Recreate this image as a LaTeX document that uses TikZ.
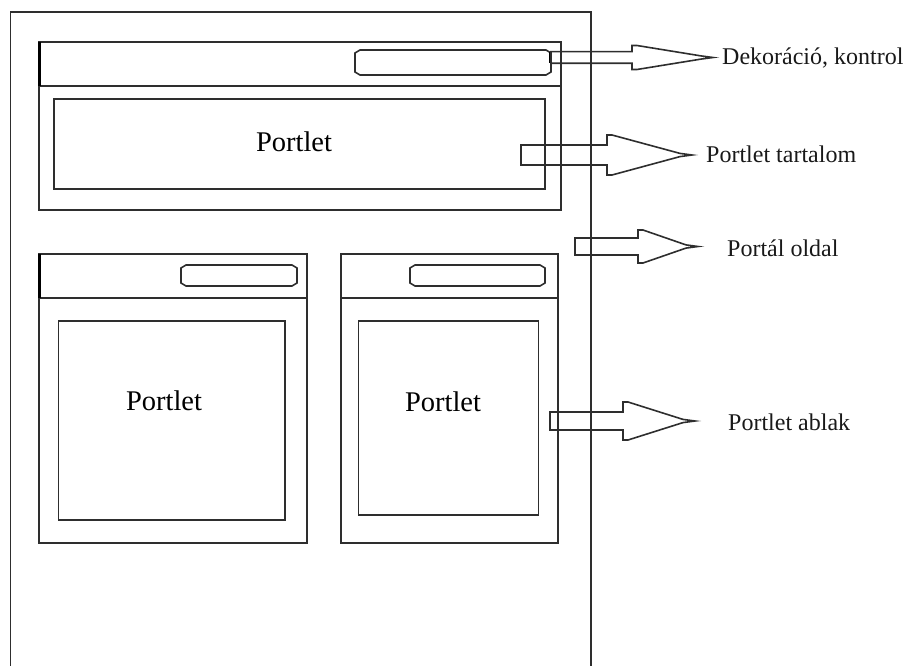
\documentclass[tikz,border=0pt]{standalone}
\usepackage{fontspec}
\setmainfont{Liberation Serif}
\newcommand\pillshape[4]{% x1 y1 x2 y2
  \draw[ln] ({#1+5},#2) -- ({#3-5},#2) -- (#3,{#2+3}) -- (#3,{#4-3}) -- ({#3-5},#4)
    -- ({#1+5},#4) -- (#1,{#4-3}) -- (#1,{#2+3}) -- cycle;}
\newcommand\blockarrow[6]{% x0 xbase xtip ycenter shafthalf headhalf
  \draw[ln] (#1,{#4-#5}) -- (#2,{#4-#5}) -- (#2,{#4-#6}) -- ({#2+5},{#4-#6})
    -- ({#3-12},{#4-1.6}) -- (#3,#4) -- ({#3-12},{#4+1.6}) -- ({#2+5},{#4+#6})
    -- (#2,{#4+#6}) -- (#2,{#4+#5}) -- (#1,{#4+#5}) -- cycle;}
\begin{document}
\begin{tikzpicture}[x=1pt,y=-1pt,
  ln/.style={draw=black!82, line width=1.6pt, line join=miter},
  thick edge/.style={draw=black, line width=3pt},
  portlet/.style={font=\fontsize{28.5}{32}\selectfont, inner sep=0pt, anchor=base},
  label/.style={font=\fontsize{24}{28}\selectfont, inner sep=0pt, anchor=base west, text=black!90}]
\useasboundingbox (0,0) rectangle (906,666);
% portal page
\draw[ln] (10.5,668) -- (10.5,12) -- (591,12) -- (591,668);
% top portlet window
\draw[ln] (39,42) rectangle (561,210);
\draw[ln] (39,86) -- (561,86);
\draw[thick edge] (39.5,42) -- (39.5,86);
\pillshape{355}{50}{551}{75}
\draw[ln] (54,99) rectangle (545,189);
\node[portlet] (p1) at (294,151.7) {Portlet};
% bottom left window
\draw[ln] (39,254) rectangle (307,543);
\draw[ln] (39,298) -- (307,298);
\draw[thick edge] (39.5,254) -- (39.5,298);
\pillshape{181}{265}{297}{286}
\draw[ln] (58.5,321) rectangle (285,520);
\node[portlet] (p2) at (164,410) {Portlet};
% bottom right window
\draw[ln] (341,254) rectangle (558,543);
\draw[ln] (341,298) -- (558,298);
\pillshape{410}{265}{545}{286}
\draw[ln] (358.5,321) rectangle (538.5,515);
\node[portlet] (p3) at (443,411.5) {Portlet};
% arrows
\draw[thick edge] (550.5,52) -- (550.5,63);
\blockarrow{551}{632}{713}{57.5}{5.8}{12}
\blockarrow{521}{607}{692}{155}{10}{20}
\blockarrow{575}{638}{698}{246.5}{8.5}{16.5}
\blockarrow{550}{623}{695}{421}{9}{19}
% labels
\node[label] (l1) at (722,65) {Dekoráció, kontrol};
\node[label] (l2) at (706,162.7) {Portlet tartalom};
\node[label] (l3) at (727,256) {Portál oldal};
\node[label] (l4) at (728,430) {Portlet ablak};
\end{tikzpicture}
\end{document}
